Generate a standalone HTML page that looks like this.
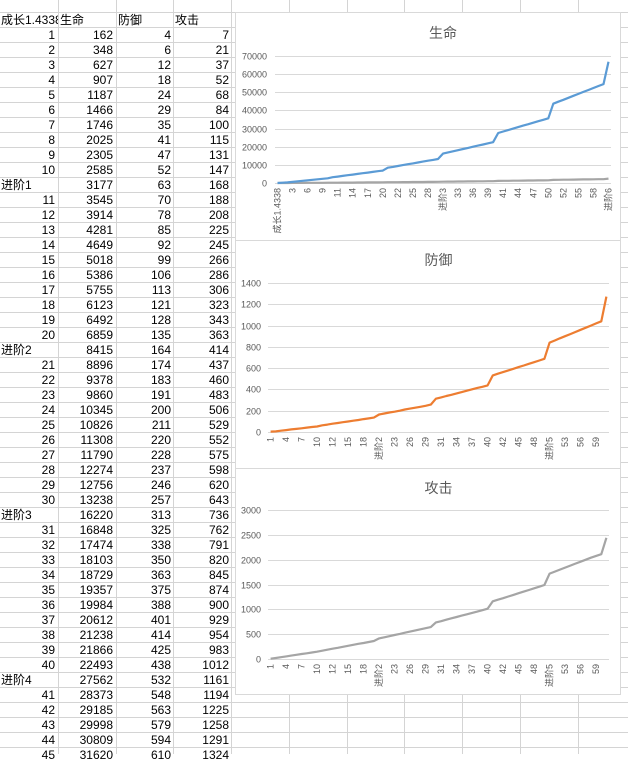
<!DOCTYPE html>
<html><head><meta charset="utf-8">
<style>
body{margin:0;width:628px;height:754px;overflow:hidden;background:#fff;font-family:"Liberation Sans","Noto Sans CJK SC",sans-serif;position:relative}
.cell{position:absolute;height:15px;line-height:15px;font-size:12px;color:#000;white-space:nowrap;overflow:hidden}
.chart{position:absolute;background:#fff;border:1px solid #d9d9d9;box-sizing:border-box}
svg text{font-family:"Liberation Sans","Noto Sans CJK SC",sans-serif}
</style></head>
<body>
<svg id="grid" width="628" height="754" style="position:absolute;left:0;top:0"></svg>
<div id="sheet"></div>
<div class="chart" style="left:235px;top:12px;width:386px;height:229px"><svg id="c1" width="386" height="229"></svg></div>
<div class="chart" style="left:235px;top:240px;width:386px;height:229px"><svg id="c2" width="386" height="229"></svg></div>
<div class="chart" style="left:235px;top:468px;width:386px;height:227px"><svg id="c3" width="386" height="227"></svg></div>
<script>
const life=[162,348,627,907,1187,1466,1746,2025,2305,2585,3177,3545,3914,4281,4649,5018,5386,5755,6123,6492,6859,8415,8896,9378,9860,10345,10826,11308,11790,12274,12756,13238,16220,16848,17474,18103,18729,19357,19984,20612,21238,21866,22493,27562,28373,29185,29998,30809,31620,32430,33240,34050,34860,35680,43720,44800,45880,46960,48040,49120,50200,51280,52360,53440,54520,66800];
const defense=[4,6,12,18,24,29,35,41,47,52,63,70,78,85,92,99,106,113,121,128,135,164,174,183,191,200,211,220,228,237,246,257,313,325,338,350,363,375,388,401,414,425,438,532,548,563,579,594,610,625,641,656,672,688,840,860,880,900,920,940,960,980,1000,1020,1040,1272];
const attack=[7,21,37,52,68,84,100,115,131,147,168,188,208,225,245,266,286,306,323,343,363,414,437,460,483,506,529,552,575,598,620,643,736,762,791,820,845,874,900,929,954,983,1012,1161,1194,1225,1258,1291,1324,1357,1390,1423,1456,1489,1720,1760,1800,1840,1880,1920,1960,2000,2040,2075,2110,2440];
const headerLabel="成长1.4338";
const categories=[];
for(let s=0;s<6;s++){for(let i=1;i<=10;i++)categories.push(String(s*10+i));categories.push("进阶"+(s+1));}
const lifeTicks=[0,10000,20000,30000,40000,50000,60000,70000];
const defTicks=[0,200,400,600,800,1000,1200,1400];
const atkTicks=[0,500,1000,1500,2000,2500,3000];
const NS="http://www.w3.org/2000/svg";
function mk(p,tag,at){const e=document.createElementNS(NS,tag);for(const k in at)e.setAttribute(k,at[k]);p.appendChild(e);return e;}
// grid
const g=document.getElementById('grid');
const cols=[58,116,173,231,289,347,404,462,520,578];
cols.forEach(x=>{const l=mk(g,'line',{x1:x+.5,y1:0,x2:x+.5,y2:754,stroke:'#d4d4d4'});});
for(let i=0;i<52;i++){const y=12.5+15*i;const l=mk(g,'line',{x1:0,y1:y,x2:628,y2:y,stroke:'#d4d4d4'});}
// table
const sheet=document.getElementById('sheet');
function cell(x,w,y,txt,right,name){const d=document.createElement('div');d.className='cell';d.style.left=x+'px';d.style.width=w+'px';d.style.top=y+'px';if(right)d.style.textAlign='right';d.textContent=txt;


sheet.appendChild(d);}
cell(1,57,13,headerLabel,false,'header-growth');cell(60,55,13,'生命',false,'header-life');cell(118,55,13,'防御',false,'header-defense');cell(175,55,13,'攻击',false,'header-attack');
categories.forEach((c,i)=>{const y=13+15*(i+1);if(y>754)return;const adv=c.startsWith('进');
cell(adv?1:0,adv?57:55,y,c,!adv,'row-label');cell(58,55,y,life[i],true,'life-cell');cell(116,55,y,defense[i],true,'defense-cell');cell(173,56,y,attack[i],true,'attack-cell');});
// charts
function chart(id,title,cats,series,ticks,px0,px1,py0,py1,lblX,titleY){
 const s=document.getElementById(id);
 const t=mk(s,'text',{x:(px0+px1)/2,y:titleY,'text-anchor':'middle','font-size':14,fill:'#595959'});t.textContent=title;
 
 const max=ticks[ticks.length-1];const yS=v=>py0-(v/max)*(py0-py1);
 const n=cats.length,bw=(px1-px0)/n;const xS=i=>px0+bw*(i+.5);
 ticks.forEach(v=>{const y=Math.round(yS(v))+.5;const l=mk(s,'line',{x1:px0,x2:px1,y1:y,y2:y,stroke:'#d9d9d9'});
 
 const tx=mk(s,'text',{x:lblX,y:y+3,'text-anchor':'end','font-size':9,fill:'#595959'});tx.textContent=v;
 });
 cats.forEach((c,i)=>{if(i%3)return;const x=xS(i)+3,y=py0+5;const tx=mk(s,'text',{x:x,y:y,'text-anchor':'end','font-size':9,fill:'#595959',transform:`rotate(-90 ${x} ${y})`});tx.textContent=c;
 });
 series.forEach(se=>{const pts=se.v.map((v,i)=>xS(i).toFixed(1)+','+yS(v).toFixed(1)).join(' ');
 const p=mk(s,'polyline',{points:pts,fill:'none',stroke:se.c,'stroke-width':2.2,'stroke-linejoin':'round'});
 });
}
chart('c1','生命',[headerLabel].concat(categories),[{v:[0].concat(attack),c:'#a5a5a5',n:'attack-line'},{v:[0].concat(life),c:'#5b9bd5',n:'life-line'}],lifeTicks,39,375,170,43,31,25);
chart('c2','防御',categories,[{v:defense,c:'#ed7d31',n:'defense-line'}],defTicks,32,373,191,42,25,24);
chart('c3','攻击',categories,[{v:attack,c:'#a5a5a5',n:'attack-line'}],atkTicks,32,373,190,41,25,24);
</script>
</body></html>
